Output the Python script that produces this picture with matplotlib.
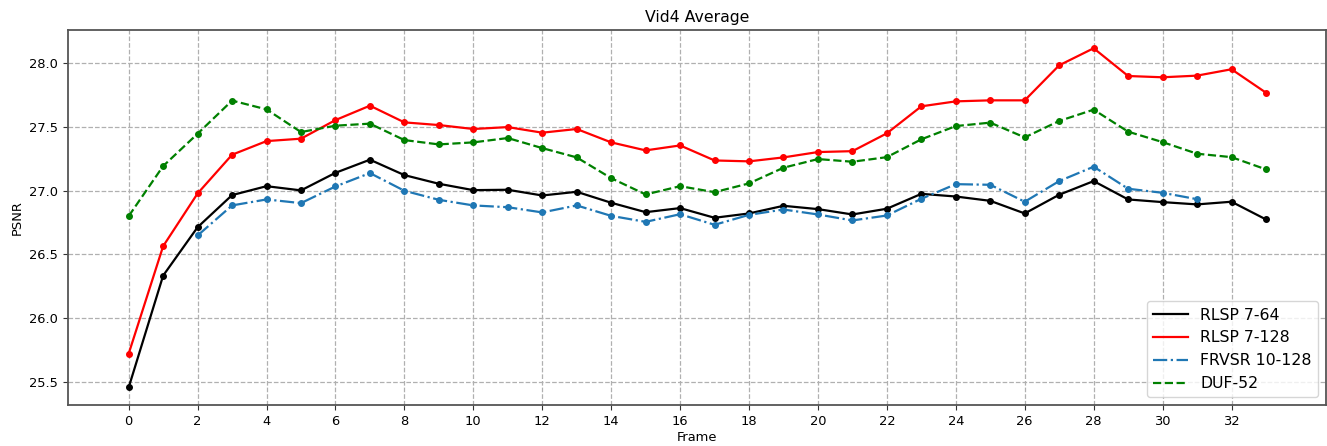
import matplotlib
matplotlib.use('Agg')
import matplotlib.pyplot as plt
import numpy as np

# PSNR par frame
frames = np.arange(34)
rlsp_64 = [25.455, 26.333, 26.713, 26.965, 27.035, 27.002, 27.140, 27.243, 27.122, 27.054,
           27.004, 27.007, 26.962, 26.991, 26.905, 26.831, 26.863, 26.787, 26.821, 26.881,
           26.855, 26.813, 26.858, 26.975, 26.954, 26.920, 26.821, 26.968, 27.075, 26.931,
           26.910, 26.892, 26.913, 26.774]
rlsp_128 = [25.720, 26.564, 26.978, 27.282, 27.389, 27.408, 27.554, 27.667, 27.536, 27.515,
            27.484, 27.499, 27.455, 27.484, 27.379, 27.316, 27.355, 27.237, 27.230, 27.261,
            27.303, 27.310, 27.450, 27.662, 27.701, 27.709, 27.709, 27.984, 28.118, 27.900,
            27.890, 27.903, 27.953, 27.769]
frvsr_frames = np.arange(2, 32)
frvsr = [26.648, 26.884, 26.931, 26.902, 27.033, 27.138, 26.999, 26.928, 26.884, 26.870,
         26.829, 26.884, 26.802, 26.755, 26.815, 26.732, 26.810, 26.852, 26.813, 26.766,
         26.805, 26.936, 27.051, 27.046, 26.913, 27.075, 27.188, 27.015, 26.983, 26.933]
duf = [26.800, 27.193, 27.447, 27.707, 27.638, 27.460, 27.510, 27.526, 27.397, 27.363,
       27.379, 27.413, 27.334, 27.261, 27.098, 26.970, 27.035, 26.988, 27.057, 27.180,
       27.248, 27.227, 27.263, 27.403, 27.507, 27.534, 27.418, 27.547, 27.636, 27.463,
       27.381, 27.290, 27.263, 27.167]

series = [
    (frames, rlsp_64, 'k', '-', 'RLSP 7-64'),
    (frames, rlsp_128, 'r', '-', 'RLSP 7-128'),
    (frvsr_frames, frvsr, '#1f77b4', '-.', 'FRVSR 10-128'),
    (frames, duf, 'g', '--', 'DUF-52'),
]

fig = plt.figure(figsize=(13.27, 4.46), dpi=100)
ax = fig.add_axes([0.0510, 0.0913, 0.9482, 0.8408])

# lignes avec légende, points à part (la légende n'a pas de marqueurs)
for x, y, c, ls, lab in series:
    ax.plot(x, y, color=c, linestyle=ls, linewidth=1.6, label=lab)
    ax.plot(x, y, color=c, linestyle='none', marker='o', markersize=4)

ax.set_xlim(-1.77, 34.74)
ax.set_ylim(25.315, 28.259)
ax.set_xticks(np.arange(0, 33, 2))
ax.set_yticks([25.5, 26.0, 26.5, 27.0, 27.5, 28.0])
ax.tick_params(labelsize=9.4, color='#333333')
ax.grid(True, linestyle='--', color='#b0b0b0', linewidth=0.9)
for s in ax.spines.values():
    s.set_color('#555555')
    s.set_linewidth(1.3)

ax.set_title('Vid4 Average', fontsize=11.3)
ax.set_xlabel('Frame', fontsize=9.4, labelpad=2)
ax.set_ylabel('PSNR', fontsize=9.4)
ax.legend(loc='lower right', fontsize=11.3, handlelength=2.2)

fig.savefig('out.png', dpi=100)
